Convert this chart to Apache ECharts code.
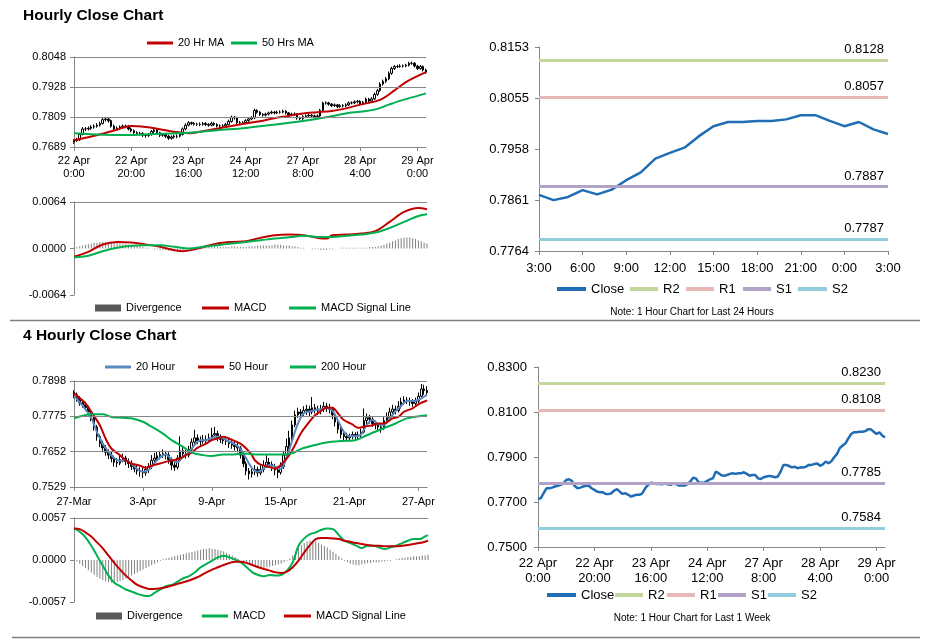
<!DOCTYPE html>
<html><head><meta charset="utf-8">
<script src="https://cdn.jsdelivr.net/npm/echarts@6/dist/echarts.min.js"></script>
<style>html,body{margin:0;padding:0;background:#fff}#c{width:932px;height:641px}</style>
</head><body><div id="c"></div>
<script>
// ---------- categories / tick labels ----------
const hourDays = [['22 Apr',24],['23 Apr',24],['24 Apr',24],['27 Apr',24],['28 Apr',24],['29 Apr',4]];
const hourCats = [];
hourDays.forEach(([d,n]) => { for (let h = 0; h < n; h++) hourCats.push(d + ' ' + h + ':00'); });
const dayCats = hourCats.slice(99);
const fourTickLabels = ['27-Mar','3-Apr','9-Apr','15-Apr','21-Apr','27-Apr'];
const fourCats = []; for (let i = 0; i < 124; i++) fourCats.push('b' + i);

const ticksHourly = [0.7689, 0.7809, 0.7928, 0.8048];
const ticksMacd1 = [-0.0064, 0, 0.0064];
const ticksDay = [0.7764, 0.7861, 0.7958, 0.8055, 0.8153];
const ticks4h = [0.7529, 0.7652, 0.7775, 0.7898];
const ticksMacd4 = [-0.0057, 0, 0.0057];
const ticksWeek = [0.75, 0.77, 0.79, 0.81, 0.83];

// ---------- hourly data ----------
const firstOpen1 = 0.7708;
const close1 = [
0.7714,0.7717,0.7739,0.7761,0.7761,0.7764,0.7769,0.7772,0.7776,0.7783,
0.7798,0.7801,0.7794,0.7772,0.7761,0.7764,0.7769,0.7772,0.7772,0.7761,
0.7754,0.7746,0.7743,0.7743,0.7736,0.7735,0.7739,0.7751,0.7757,0.7746,
0.7736,0.7739,0.7732,0.7724,0.7729,0.7732,0.7732,0.7739,0.7761,0.7776,
0.7786,0.7783,0.7780,0.7780,0.7779,0.7783,0.7779,0.7776,0.7783,0.7779,
0.7773,0.7773,0.7773,0.7779,0.7791,0.7808,0.7805,0.7786,0.7786,0.7786,
0.7794,0.7801,0.7805,0.7835,0.7828,0.7819,0.7816,0.7820,0.7825,0.7828,
0.7825,0.7828,0.7828,0.7832,0.7825,0.7817,0.7820,0.7820,0.7805,0.7802,
0.7810,0.7813,0.7816,0.7813,0.7810,0.7813,0.7835,0.7865,0.7865,0.7860,
0.7854,0.7857,0.7850,0.7854,0.7853,0.7857,0.7865,0.7865,0.7869,
0.7871,0.7861,0.7867,0.7880,0.7872,0.7881,0.7899,0.7914,0.7940,0.7951,
0.7961,0.7983,0.8002,0.8010,0.8010,0.8012,0.8012,0.8015,0.8023,0.8023,
0.8012,0.8002,0.8010,0.7996,0.7987];
const high1 = [
.7720,.7726,.7745,.7768,.7769,.7771,.7776,.7779,.7784,.7790,
.7806,.7809,.7808,.7798,.7778,.7771,.7775,.7779,.7778,.7777,
.7766,.7759,.7752,.7750,.7748,.7742,.7745,.7757,.7763,.7761,
.7750,.7745,.7744,.7737,.7735,.7738,.7739,.7745,.7767,.7783,
.7792,.7790,.7788,.7786,.7787,.7789,.7788,.7784,.7790,.7788,
.7784,.7779,.7780,.7785,.7798,.7814,.7813,.7809,.7793,.7792,
.7800,.7807,.7812,.7842,.7840,.7832,.7824,.7826,.7830,.7834,
.7833,.7834,.7835,.7838,.7836,.7829,.7826,.7827,.7824,.7810,
.7816,.7819,.7822,.7821,.7818,.7819,.7841,.7870,.7871,.7869,
.7864,.7863,.7861,.7860,.7860,.7863,.7871,.7871,.7875,.7877,
.7876,.7873,.7886,.7885,.7888,.7906,.7921,.7947,.7958,.7968,
.7990,.8009,.8016,.8017,.8019,.8018,.8021,.8029,.8030,.8028,
.8017,.8016,.8014,.8001];
const low1 = [
.7702,.7709,.7713,.7735,.7752,.7755,.7758,.7762,.7766,.7770,
.7779,.7790,.7786,.7766,.7755,.7754,.7758,.7763,.7764,.7755,
.7747,.7740,.7736,.7735,.7729,.7726,.7729,.7734,.7745,.7740,
.7729,.7730,.7725,.7717,.7718,.7723,.7724,.7727,.7735,.7756,
.7771,.7777,.7774,.7773,.7772,.7774,.7773,.7770,.7771,.7773,
.7767,.7766,.7767,.7768,.7775,.7786,.7798,.7780,.7779,.7780,
.7781,.7789,.7796,.7800,.7822,.7813,.7810,.7811,.7815,.7820,
.7819,.7820,.7822,.7823,.7819,.7811,.7812,.7813,.7798,.7795,
.7797,.7805,.7808,.7807,.7804,.7805,.7809,.7830,.7858,.7854,
.7848,.7849,.7844,.7845,.7847,.7848,.7852,.7859,.7860,.7863,
.7855,.7856,.7862,.7866,.7867,.7876,.7893,.7909,.7934,.7945,
.7956,.7977,.7996,.8004,.8005,.8006,.8007,.8010,.8017,.8006,
.7996,.7997,.7990,.7981];
const ma20h = [[0,.7716],[5,.7728],[10,.7742],[15,.7758],[20,.7773],[25,.7769],[30,.7760],[35,.7750],[40,.7744],[45,.7752],[50,.7762],[55,.7773],[60,.7783],[65,.7792],[70,.7804],[75,.7813],[80,.7823],[85,.7828],[90,.7833],[95,.7843],[100,.7858],[105,.7870],[108,.7883],[112,.7915],[116,.7948],[120,.7972],[123,.7988]];
const ma50h = [[0,.7744],[10,.7738],[20,.7737],[30,.7742],[40,.7746],[50,.7756],[60,.7765],[70,.7778],[80,.7793],[90,.7812],[95,.7823],[100,.7830],[105,.7838],[110,.7858],[115,.7877],[120,.7893],[123,.7903]];
const div1 = [
.0001,.0002,.0003,.0004,.0005,.0006,.0007,.0008,.0008,.0009,
.0009,.0009,.0009,.0008,.0008,.0008,.0007,.0006,.0006,.0005,
.00045,.0004,.0003,.0003,.0002,.0001,.0001,0,-.0001,-.0001,
-.0002,-.0002,-.0002,-.0003,-.0003,-.0003,-.0003,-.0003,-.0002,-.0002,
-.0001,-.0001,0,0,.0001,.0001,.0002,.0002,.0002,.0002,
.0002,.0002,.0002,.0002,.0002,.0003,.0003,.0002,.0002,.0002,
.0002,.0003,.0003,.0003,.0004,.0004,.0004,.0004,.0004,.0004,
.0005,.0005,.0005,.0004,.0004,.0004,.0003,.0003,.0002,.0001,
.0001,0,0,-.0001,-.0001,-.0001,-.0002,-.0002,-.0002,-.0001,
-.0001,0,0,.0001,.0001,.0001,.0001,.0001,.0001,.0001,
.0001,.0001,.0001,.0002,.0002,.0002,.0003,.0004,.0005,.0007,
.0008,.0010,.0011,.0013,.0014,.0015,.0015,.0015,.0014,.0013,
.0011,.0010,.0008,.0007];
const macd1 = [[0,-.00114],[5,-.00046],[10,.00055],[15,.00091],[20,.00082],[25,.00055],[30,.00023],[35,-.00023],[38,-.00037],[42,-.0001],[46,.0003],[50,.00069],[55,.0009],[60,.0010],[65,.00146],[70,.00183],[75,.00192],[80,.00183],[85,.00146],[88,.00137],[90,.00183],[95,.00192],[100,.00206],[105,.00238],[110,.00366],[115,.00503],[120,.00558],[123,.00539]];
const signal1 = [[0,-.00123],[5,-.001],[10,-.00037],[15,.00009],[20,.00037],[25,.00046],[30,.00046],[35,.00023],[40,0],[45,.00023],[50,.00046],[55,.00069],[60,.00091],[65,.00114],[70,.00137],[75,.00155],[80,.00174],[85,.0016],[90,.0016],[95,.00174],[100,.00192],[105,.00219],[110,.00283],[115,.00366],[120,.00448],[123,.00471]];

// ---------- 4 hourly data ----------
const firstOpen4 = 0.7858;
const close4 = [
.7850,.7838,.7822,.7815,.7805,.7790,.7770,.7738,.7705,.7680,
.7665,.7650,.7640,.7628,.7615,.7612,.7625,.7630,.7618,.7610,
.7600,.7592,.7585,.7582,.7578,.7590,.7600,.7622,.7630,.7638,
.7642,.7645,.7640,.7625,.7605,.7598,.7630,.7655,.7645,.7640,
.7660,.7685,.7700,.7690,.7688,.7695,.7690,.7700,.7710,.7715,
.7700,.7695,.7690,.7688,.7680,.7675,.7670,.7665,.7640,.7610,
.7585,.7575,.7582,.7590,.7578,.7590,.7605,.7615,.7608,.7600,
.7588,.7580,.7600,.7640,.7670,.7700,.7745,.7780,.7790,.7785,
.7795,.7800,.7790,.7805,.7800,.7795,.7800,.7810,.7805,.7800,
.7780,.7755,.7730,.7712,.7705,.7700,.7705,.7712,.7705,.7710,
.7720,.7760,.7770,.7765,.7750,.7745,.7738,.7735,.7760,.7770,
.7790,.7800,.7795,.7810,.7825,.7832,.7830,.7825,.7820,.7828,
.7845,.7870,.7865,.7858];
const high4 = [
.7866,.7858,.7845,.7834,.7826,.7812,.7798,.7778,.7745,.7712,
.7690,.7675,.7660,.7652,.7638,.7630,.7640,.7645,.7638,.7628,
.7622,.7610,.7605,.7598,.7595,.7602,.7612,.7640,.7648,.7652,
.7655,.7660,.7655,.7650,.7632,.7615,.7640,.7705,.7668,.7658,
.7672,.7698,.7728,.7712,.7705,.7710,.7708,.7715,.7735,.7738,
.7725,.7712,.7705,.7702,.7698,.7692,.7688,.7682,.7672,.7648,
.7618,.7595,.7598,.7605,.7600,.7605,.7622,.7640,.7630,.7618,
.7610,.7598,.7615,.7655,.7698,.7725,.7760,.7795,.7805,.7800,
.7810,.7815,.7812,.7842,.7818,.7812,.7815,.7825,.7822,.7818,
.7808,.7788,.7762,.7738,.7720,.7718,.7715,.7722,.7720,.7722,
.7732,.7802,.7785,.7780,.7772,.7760,.7752,.7750,.7772,.7788,
.7805,.7815,.7812,.7828,.7840,.7845,.7842,.7840,.7835,.7840,
.7858,.7888,.7885,.7880];
const low4 = [
.7838,.7826,.7812,.7805,.7794,.7778,.7758,.7725,.7690,.7668,
.7650,.7638,.7626,.7615,.7600,.7598,.7605,.7615,.7605,.7595,
.7588,.7580,.7572,.7565,.7560,.7568,.7578,.7592,.7612,.7620,
.7625,.7630,.7625,.7610,.7588,.7585,.7590,.7622,.7632,.7628,
.7632,.7650,.7675,.7678,.7672,.7680,.7676,.7682,.7690,.7698,
.7688,.7682,.7678,.7675,.7665,.7662,.7656,.7650,.7628,.7598,
.7570,.7555,.7562,.7570,.7565,.7570,.7580,.7595,.7595,.7585,
.7570,.7560,.7572,.7592,.7632,.7660,.7690,.7738,.7770,.7770,
.7775,.7780,.7775,.7782,.7785,.7780,.7782,.7790,.7790,.7785,
.7765,.7740,.7715,.7698,.7692,.7688,.7690,.7695,.7692,.7695,
.7702,.7715,.7748,.7750,.7738,.7730,.7722,.7718,.7728,.7750,
.7760,.7780,.7782,.7788,.7802,.7815,.7818,.7812,.7808,.7812,
.7820,.7840,.7850,.7845];
const ma20_4h = [[0,.7845],[3,.7812],[6,.7770],[8,.7720],[10,.7680],[12,.7652],[14,.7630],[16,.7620],[18,.7622],[20,.7610],[22,.7592],[24,.7582],[26,.7588],[28,.7612],[30,.7632],[32,.7642],[34,.7625],[36,.7615],[38,.7635],[40,.7650],[42,.7675],[44,.7692],[46,.7692],[48,.7700],[50,.7705],[52,.7698],[54,.7688],[56,.7678],[58,.7662],[60,.7628],[62,.7595],[64,.7582],[66,.7592],[68,.7605],[70,.7600],[72,.7592],[74,.7630],[76,.7690],[78,.7750],[80,.7785],[82,.7792],[84,.7797],[86,.7800],[88,.7804],[90,.7795],[92,.7760],[94,.7722],[96,.7706],[98,.7706],[100,.7712],[102,.7745],[104,.7762],[106,.7748],[108,.7745],[110,.7768],[112,.7792],[114,.7812],[116,.7828],[118,.7828],[120,.7832],[123,.7850]];
const ma50_4h = [[0,.7855],[4,.7820],[6,.7791],[9,.7744],[11,.7698],[13,.7663],[16,.7640],[18,.7622],[20,.7611],[23,.7603],[25,.7596],[27,.7603],[30,.7611],[33,.7619],[37,.7628],[39,.7640],[41,.7649],[43,.7665],[46,.7680],[48,.7692],[50,.7698],[52,.7704],[54,.7698],[56,.7689],[58,.7680],[60,.7663],[62,.7640],[63,.7622],[65,.7607],[68,.7599],[70,.7593],[72,.7605],[75,.7640],[77,.7675],[79,.7715],[82,.7756],[84,.7779],[86,.7793],[88,.7805],[90,.7805],[92,.7785],[94,.7762],[97,.7747],[99,.7735],[101,.7739],[104,.7744],[106,.7750],[108,.7750],[111,.7768],[113,.7773],[115,.7791],[118,.7803],[120,.7817],[123,.7830]];
const ma200_4h = [[0,.7768],[3,.7777],[6,.7782],[10,.7782],[13,.7773],[17,.7770],[20,.7768],[24,.7756],[27,.7739],[31,.7715],[34,.7692],[38,.7669],[41,.7649],[45,.7640],[48,.7637],[52,.7642],[55,.7642],[59,.7646],[62,.7643],[66,.7642],[72,.7642],[76,.7646],[79,.7661],[84,.7675],[88,.7684],[93,.7689],[98,.7692],[102,.7709],[107,.7730],[112,.7750],[116,.7768],[123,.7779]];
const div4 = [
0,-.0002,-.0005,-.0008,-.0011,-.0014,-.0017,-.0020,-.0023,-.0025,
-.0027,-.0029,-.0030,-.0031,-.0031,-.0030,-.0029,-.0027,-.0025,-.0023,
-.0021,-.0019,-.0017,-.0015,-.0013,-.0011,-.0009,-.0007,-.0005,-.0003,
-.0001,.0001,.0002,.0003,.0004,.0005,.0006,.0007,.0008,.0009,
.0010,.0011,.0012,.0013,.0014,.0015,.0015,.0016,.0015,.0015,
.0014,.0013,.0012,.0010,.0008,.0006,.0004,.0002,0,-.0002,
-.0004,-.0006,-.0008,-.0009,-.0010,-.0011,-.0011,-.0010,-.0009,-.0008,
-.0007,-.0006,-.0005,-.0003,-.0001,.0002,.0006,.0011,.0016,.0020,
.0023,.0025,.0026,.0026,.0025,.0023,.0021,.0019,.0017,.0014,
.0011,.0008,.0005,.0002,-.0001,-.0003,-.0005,-.0006,-.0007,-.0007,
-.0006,-.0005,-.0004,-.0004,-.0003,-.0003,-.0003,-.0002,-.0002,-.0001,
-.0001,0,.0001,.0002,.0003,.0003,.0004,.0004,.0005,.0005,
.0005,.0006,.0006,.0007];
const macd4 = [[0,.00428],[2,.00383],[4,.00306],[6,.00194],[8,.00059],[10,-.00077],[12,-.00212],[14,-.0031],[16,-.00356],[18,-.004],[20,-.00428],[22,-.00459],[24,-.00482],[26,-.0049],[28,-.00446],[30,-.004],[32,-.00356],[34,-.00338],[36,-.00293],[38,-.00248],[40,-.0022],[42,-.00167],[44,-.00099],[46,-.00054],[48,-.00009],[50,.00036],[52,.00059],[54,.00036],[56,.00005],[58,-.00032],[60,-.00099],[62,-.00167],[64,-.00203],[66,-.0022],[68,-.00203],[70,-.00212],[72,-.00203],[74,-.00144],[76,-.00032],[78,.00194],[80,.00293],[82,.00351],[84,.00374],[86,.0041],[88,.00428],[90,.00419],[92,.00338],[94,.00261],[96,.0023],[98,.00194],[100,.00162],[102,.00194],[104,.00194],[106,.00171],[108,.00149],[110,.00171],[112,.00194],[114,.0023],[116,.00261],[118,.00284],[120,.00284],[122,.0032],[123,.00338]];
const signal4 = [[0,.00428],[2,.00419],[4,.00374],[6,.0032],[8,.00239],[10,.00158],[12,.00059],[14,-.0004],[16,-.0013],[18,-.00212],[20,-.00279],[22,-.00338],[24,-.00369],[26,-.00392],[28,-.00392],[30,-.00383],[32,-.00369],[34,-.00347],[36,-.00324],[38,-.00302],[40,-.00279],[42,-.00248],[44,-.00212],[46,-.00167],[48,-.0013],[50,-.00099],[52,-.00068],[54,-.0004],[56,-.00023],[58,-.00023],[60,-.0004],[62,-.00068],[64,-.00099],[66,-.00122],[68,-.00144],[70,-.00167],[72,-.00176],[74,-.00158],[76,-.00099],[78,-.00009],[80,.00104],[82,.00203],[84,.00284],[86,.00297],[88,.00297],[90,.00293],[92,.00284],[94,.00261],[96,.00248],[98,.0023],[100,.00216],[102,.00203],[104,.00194],[106,.00194],[108,.00185],[110,.00185],[112,.00185],[114,.00194],[116,.00203],[118,.00216],[120,.0023],[122,.00248],[123,.00261]];

// ---------- pivot levels ----------
const levelsDay = {R2:0.8128, R1:0.8057, S1:0.7887, S2:0.7787};
const levelsWeek = {R2:0.8230, R1:0.8108, S1:0.7785, S2:0.7584};
const levelColors = {R2:'#c3d69b', R1:'#e6b9b8', S1:'#b3a2c7', S2:'#93cddd'};

// ---------- build ----------
const AX = '#868686';
const FF = '"Liberation Sans", Arial, sans-serif';
const RED = '#c00000', GREEN = '#00b050', BLUE = '#5b86bf', CLOSE = '#1f6db4', GRAY = '#808080';

const candles1 = close1.map((c,i) => [i ? close1[i-1] : firstOpen1, c, low1[i], high1[i]]);
const candles4 = close4.map((c,i) => [i ? close4[i-1] : firstOpen4, c, low4[i], high4[i]]);

function yAx(gi, min, max, ticks, fs, margin) {
  return {type:'value', gridIndex:gi, min:min, max:max,
    axisLine:{show:true, lineStyle:{color:AX}},
    axisTick:{show:true, length:4, customValues:ticks, lineStyle:{color:AX}},
    axisLabel:{customValues:ticks, fontSize:fs, fontFamily:FF, color:'#000', margin:margin, formatter:v => v.toFixed(4)},
    splitLine:{show:false}};
}
function xAx(gi, cats, every, fs, margin, lh, fmt) {
  return {type:'category', gridIndex:gi, data:cats, boundaryGap:false,
    axisLine:{show:true, lineStyle:{color:AX}},
    axisTick:{show:true, length:4, interval:every-1, lineStyle:{color:AX}},
    axisLabel:{interval:every-1, fontSize:fs, fontFamily:FF, color:'#000', margin:margin, lineHeight:lh, formatter:fmt},
    splitLine:{show:false}};
}
function xHidden(gi, cats) { return {type:'category', gridIndex:gi, data:cats, boundaryGap:false, show:false}; }
const twoLine = v => v.replace(/ (\d+:00)$/, '\n$1');

function gridLines(ai, vals) {
  return {type:'line', xAxisIndex:ai, yAxisIndex:ai, data:[], silent:true, z:1,
    markLine:{silent:true, symbol:'none', animation:false, precision:6, label:{show:false},
      lineStyle:{color:AX, type:'solid', width:1}, data:vals.map(v => ({yAxis:v}))}};
}
function level(key, ai, levels, suffix) {
  const col = levelColors[key], val = levels[key];
  return {name:key + suffix, type:'line', xAxisIndex:ai, yAxisIndex:ai, data:[], color:col,
    lineStyle:{color:col, width:3},
    markLine:{silent:true, symbol:'none', animation:false, precision:6,
      lineStyle:{color:col, width:3, type:'solid'},
      label:{show:true, position:'insideEndTop', formatter:val.toFixed(4), fontSize:13, fontFamily:FF, color:'#000', distance:[4,4]},
      data:[{yAxis:val}]}};
}
function line(name, ai, data, color, width, smooth) {
  return {name:name, type:'line', xAxisIndex:ai, yAxisIndex:ai, data:data, color:color, symbol:'none',
    smooth:smooth ? 0.35 : false, lineStyle:{color:color, width:width}, silent:true, z:3};
}
function lg(name, label, textX, cy, w, h, fs, color) {
  return {show:true, data:[{name:name, itemStyle:{color:color}}], left:textX - w - 4, top:cy - Math.max(h, fs)/2 - 1,
    itemWidth:w, itemHeight:h, icon:'rect', padding:0, itemGap:0, selectedMode:false,
    formatter:() => label, textStyle:{fontSize:fs, fontFamily:FF, color:'#000'}};
}
const candleStyle = {color:'#fff', color0:'#000', borderColor:'#000', borderColor0:'#000', borderWidth:1};

const option = {
  animation:false,
  grid:[
    {left:74, top:57, width:352, height:90},
    {left:74, top:202, width:353, height:93},
    {left:539, top:47, width:349, height:204},
    {left:74, top:381, width:353, height:106},
    {left:74, top:518, width:354, height:84},
    {left:538, top:367, width:347, height:180}
  ],
  xAxis:[
    xAx(0, hourCats, 20, 11, 7, 13, twoLine),
    xHidden(1, hourCats),
    xAx(2, dayCats, 3, 13, 10, 15, v => v.split(' ')[2]),
    xAx(3, fourCats, 24, 11, 8, 13, (v, i) => fourTickLabels[Math.round(i/24)]),
    xHidden(4, fourCats),
    xAx(5, hourCats, 20, 13, 9, 15, twoLine)
  ],
  yAxis:[
    yAx(0, 0.7689, 0.8048, ticksHourly, 11, 8),
    yAx(1, -0.0064, 0.0064, ticksMacd1, 11, 8),
    yAx(2, 0.7764, 0.8153, ticksDay, 13, 10),
    yAx(3, 0.7529, 0.7898, ticks4h, 11, 8),
    yAx(4, -0.0057, 0.0057, ticksMacd4, 11, 8),
    yAx(5, 0.75, 0.83, ticksWeek, 13, 11)
  ],
  series:[
    gridLines(0, ticksHourly.slice(1)),
    {type:'candlestick', name:'c1', xAxisIndex:0, yAxisIndex:0, data:candles1, barWidth:2, itemStyle:candleStyle, silent:true, z:2},
    line('20 Hr MA', 0, ma20h, RED, 2, true),
    line('50 Hrs MA', 0, ma50h, GREEN, 2, true),

    gridLines(1, [0.0064]),
    {type:'bar', name:'Divergence#1', xAxisIndex:1, yAxisIndex:1, data:div1, barWidth:1, color:GRAY, itemStyle:{color:GRAY}, silent:true},
    line('MACD#1', 1, macd1, RED, 2, true),
    line('MACD Signal Line#1', 1, signal1, GREEN, 2, true),

    line('Close#1', 2, close1.slice(99), CLOSE, 2.5, false),
    level('R2', 2, levelsDay, '#1'), level('R1', 2, levelsDay, '#1'),
    level('S1', 2, levelsDay, '#1'), level('S2', 2, levelsDay, '#1'),

    gridLines(3, ticks4h.slice(1)),
    {type:'candlestick', name:'c4', xAxisIndex:3, yAxisIndex:3, data:candles4, barWidth:2, itemStyle:candleStyle, silent:true, z:2},
    line('20 Hour', 3, ma20_4h, BLUE, 2, true),
    line('50 Hour', 3, ma50_4h, RED, 2, true),
    line('200 Hour', 3, ma200_4h, GREEN, 2, true),

    gridLines(4, [0.0057]),
    {type:'bar', name:'Divergence#4', xAxisIndex:4, yAxisIndex:4, data:div4, barWidth:1, color:GRAY, itemStyle:{color:GRAY}, silent:true},
    line('MACD#4', 4, macd4, GREEN, 2, true),
    line('MACD Signal Line#4', 4, signal4, RED, 2, true),

    line('Close#5', 5, close1, CLOSE, 2.5, false),
    level('R2', 5, levelsWeek, '#5'), level('R1', 5, levelsWeek, '#5'),
    level('S1', 5, levelsWeek, '#5'), level('S2', 5, levelsWeek, '#5')
  ],
  legend:[
    lg('20 Hr MA', '20 Hr MA', 177, 44, 26, 3, 11, RED),
    lg('50 Hrs MA', '50 Hrs MA', 261, 44, 26, 3, 11, GREEN),
    lg('Divergence#1', 'Divergence', 125, 309, 26, 7, 11, '#595959'),
    lg('MACD#1', 'MACD', 233, 309, 27, 3, 11, RED),
    lg('MACD Signal Line#1', 'MACD Signal Line', 320, 309, 27, 3, 11, GREEN),
    lg('Close#1', 'Close', 590, 290, 29, 4, 13, CLOSE),
    lg('R2#1', 'R2', 662, 290, 28, 4, 13, levelColors.R2),
    lg('R1#1', 'R1', 718, 290, 28, 4, 13, levelColors.R1),
    lg('S1#1', 'S1', 775, 290, 28, 4, 13, levelColors.S1),
    lg('S2#1', 'S2', 831, 290, 29, 4, 13, levelColors.S2),
    lg('20 Hour', '20 Hour', 135, 368, 26, 3, 11, BLUE),
    lg('50 Hour', '50 Hour', 228, 368, 26, 3, 11, RED),
    lg('200 Hour', '200 Hour', 320, 368, 26, 3, 11, GREEN),
    lg('Divergence#4', 'Divergence', 126, 617, 26, 7, 11, '#595959'),
    lg('MACD#4', 'MACD', 232, 617, 26, 3, 11, GREEN),
    lg('MACD Signal Line#4', 'MACD Signal Line', 315, 617, 27, 3, 11, RED),
    lg('Close#5', 'Close', 580, 596, 29, 4, 13, CLOSE),
    lg('R2#5', 'R2', 647, 596, 28, 4, 13, levelColors.R2),
    lg('R1#5', 'R1', 699, 596, 28, 4, 13, levelColors.R1),
    lg('S1#5', 'S1', 750, 596, 28, 4, 13, levelColors.S1),
    lg('S2#5', 'S2', 800, 596, 28, 4, 13, levelColors.S2)
  ],
  graphic:[
    {type:'text', x:23, y:16, style:{text:'Hourly Close Chart', font:'bold 15.5px ' + FF, fill:'#000', verticalAlign:'middle'}},
    {type:'text', x:23, y:335.5, style:{text:'4 Hourly Close Chart', font:'bold 15.5px ' + FF, fill:'#000', verticalAlign:'middle'}},
    {type:'text', x:692, y:312, style:{text:'Note: 1 Hour Chart for Last 24 Hours', font:'10px ' + FF, fill:'#000', align:'center', verticalAlign:'middle'}},
    {type:'text', x:692, y:618, style:{text:'Note: 1 Hour Chart for Last 1 Week', font:'10px ' + FF, fill:'#000', align:'center', verticalAlign:'middle'}},
    {type:'line', shape:{x1:10, y1:320.5, x2:920, y2:320.5}, style:{stroke:'#7f7f7f', lineWidth:1.5}},
    {type:'line', shape:{x1:12, y1:637.5, x2:920, y2:637.5}, style:{stroke:'#7f7f7f', lineWidth:1.5}}
  ]
};
const chart = echarts.init(document.getElementById('c'), null, {renderer:'canvas'});
chart.setOption(option);
</script></body></html>
